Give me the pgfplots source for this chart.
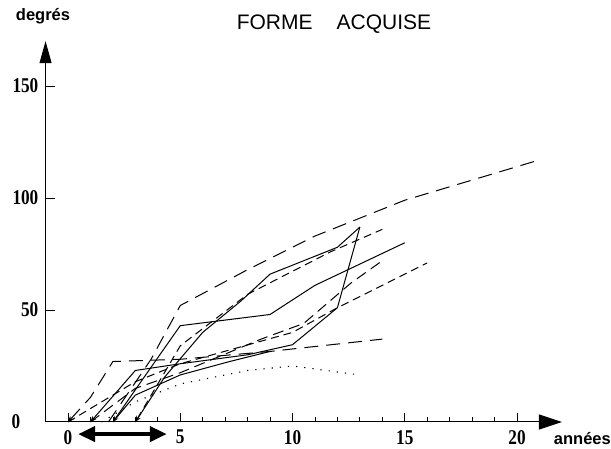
\documentclass[border=0pt]{standalone}
\usepackage{fontspec}
\setmainfont{Liberation Sans}
\newfontfamily\tickfont[FakeStretch=0.82]{Liberation Serif}
\usepackage{pgfplots}
\pgfplotsset{compat=1.18}
\usetikzlibrary{arrows.meta}

\begin{document}
\begin{tikzpicture}[x=1pt,y=1pt]
\begin{axis}[
  at={(45.55pt,27pt)}, anchor=south west,
  x=22.45pt, y=2.24pt,
  xmin=-1, xmax=22, ymin=0, ymax=170,
  clip=false,
  axis x line*=bottom, axis y line*=left,
  axis line style={line width=1pt, black},
  x axis line style={-{Triangle[length=23pt,width=15pt]}},
  y axis line style={-{Triangle[length=22pt,width=12pt]}},
  xtick={0,5,10,15,20},
  minor xtick={1,2,3,4,6,7,8,9,11,12,13,14,16,17,18,19,21},
  ytick={50,100,150},
  extra y ticks={0},
  extra y tick style={major tick length=0pt, yticklabel style={xshift=-18pt}},
  tick align=inside,
  major tick length=9pt, minor tick length=5pt,
  tick style={line width=0.8pt, black},
  /pgf/number format/assume math mode=true,
  xticklabel style={font=\tickfont\bfseries\fontsize{21}{21}\selectfont, inner sep=0pt, anchor=north, yshift=-8pt},
  yticklabel style={font=\tickfont\bfseries\fontsize{21}{21}\selectfont, inner sep=0pt, anchor=east, xshift=-7pt},
]
% long dash, from origin, plateau ~27
\addplot[black, line width=1pt, dash pattern=on 14pt off 8pt, {Stealth[length=6pt,width=5pt]}-] coordinates {(0,0) (1,11) (2,27) (3.5,27.5) (5,28) (9,31.5) (14,37)};
% long dash, top
\addplot[black, line width=1pt, dash pattern=on 14pt off 8pt] coordinates {(1.8,0) (3.7,28) (5,52) (8,68) (11,83) (15,99) (21,117)};
% solid to (15,80)
\addplot[black, line width=1pt, {Stealth[length=6pt,width=5pt]}-] coordinates {(2,0) (3.6,23) (5,43) (9,48) (11,61) (15,80)};
% short dash to (14,86)
\addplot[black, line width=1pt, dash pattern=on 8pt off 5pt, {Stealth[length=6pt,width=5pt]}-] coordinates {(3,0) (5,34) (8,57) (11.7,76) (14,86)};
% solid to (13,87) via (9,66)
\addplot[black, line width=1pt] coordinates {(3,0) (4.3,20) (6,40) (7.7,54) (9,66) (12,78) (13,87)};
% medium dash to (14,72)
\addplot[black, line width=1pt, dash pattern=on 11pt off 6pt] coordinates {(1,0) (3,15) (5,22) (8.6,37) (10.5,44) (12.6,62) (14,72)};
% short dash to (16,71)
\addplot[black, line width=1pt, dash pattern=on 8pt off 5pt] coordinates {(0,0) (3,18) (5,26) (10,40) (12,51) (16,71)};
% solid, steep end to (13,87)
\addplot[black, line width=1pt, {Stealth[length=6pt,width=5pt]}-] coordinates {(1,0) (3,23) (5,26) (8,30) (10,34.5) (12,51) (13,87)};
% solid short to (9,31)
\addplot[black, line width=1pt] coordinates {(2,0) (3,12) (5,21) (7.2,27) (9,31.5)};
% dotted
\addplot[black, line width=1.1pt, dash pattern=on 1.2pt off 7pt] coordinates {(1.5,0) (3,9) (5,17) (8,23) (10,25) (13,21)};
% double arrow below the axis
\addplot[black, line width=4pt, {Triangle[length=17pt,width=15pt]}-{Triangle[length=17pt,width=15pt]}] coordinates {(0.45,-5.4) (4.4,-5.4)};
\end{axis}
\node[anchor=base, font=\fontsize{21}{21}\selectfont] at (334pt,419pt) {FORME\hspace{24pt}ACQUISE};
\node[anchor=base, font=\bfseries\fontsize{16.5}{16.5}\selectfont] at (43pt,428pt) {degrés};
\node[anchor=base east, font=\bfseries\fontsize{16.5}{16.5}\selectfont, inner sep=0pt] at (611pt,4pt) {années};
\pgfresetboundingbox
\useasboundingbox (0pt,0pt) rectangle (611pt,449pt);
\end{tikzpicture}
\end{document}
